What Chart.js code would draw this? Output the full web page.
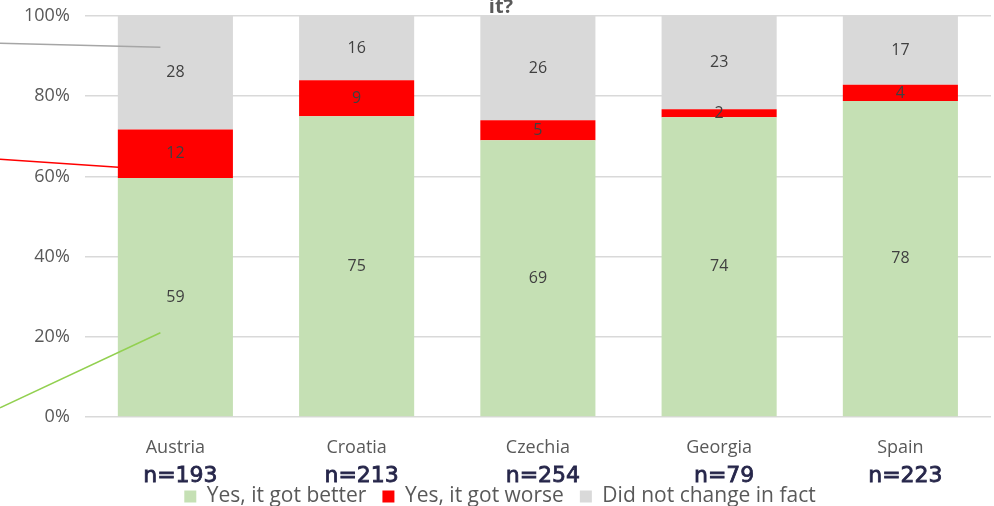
<!DOCTYPE html>
<html>
<head>
<meta charset="utf-8">
<script src="https://cdn.jsdelivr.net/npm/chart.js@4/dist/chart.umd.min.js"></script>
<style>
  html, body { margin: 0; padding: 0; background: #fff; }
  #wrap { width: 994px; height: 506px; }
</style>
</head>
<body>
<div id="wrap"><canvas id="chart"></canvas></div>
<script>
const countries = ['Austria', 'Croatia', 'Czechia', 'Georgia', 'Spain'];
const sampleSizes = ['n=193', 'n=213', 'n=254', 'n=79', 'n=223'];
const better = [59, 75, 69, 74, 78];
const worse = [12, 9, 5, 2, 4];
const noChange = [28, 16, 26, 23, 17];
const yTicks = [0, 20, 40, 60, 80, 100];

// shares of each country's total, the bars are 100% stacked
const totals = countries.map((c, i) => better[i] + worse[i] + noChange[i]);
const share = arr => arr.map((v, i) => v / totals[i] * 100);

const labelPlugin = {
  id: 'extras',
  afterDatasetsDraw(chart) {
    const ctx = chart.ctx;
    const x = chart.scales.x;
    const y = chart.scales.y;
    ctx.save();
    // value labels in the middle of each segment
    ctx.font = '16px "Open Sans"';
    ctx.fillStyle = '#404040';
    ctx.textAlign = 'center';
    ctx.textBaseline = 'middle';
    chart.data.datasets.forEach((ds, di) => {
      chart.getDatasetMeta(di).data.forEach((bar, i) => {
        const mid = (bar.y + bar.base) / 2;
        ctx.fillText(ds.raw[i], bar.x, mid);
      });
    });
    // sample sizes under the country names
    ctx.font = '22px "DejaVu Sans"';
    ctx.fillStyle = '#26264a';
    ctx.strokeStyle = '#26264a';
    ctx.lineWidth = 0.8;
    sampleSizes.forEach((s, i) => {
      const px = x.getPixelForValue(i) + 5;
      const py = chart.chartArea.bottom + 59;
      ctx.fillText(s, px, py);
      ctx.strokeText(s, px, py);
    });
    // leftover end of the title
    ctx.font = 'bold 20px "Open Sans"';
    ctx.fillStyle = '#595959';
    ctx.textBaseline = 'alphabetic';
    ctx.fillText('it?', 501, 13);
    // leader lines coming from outside the picture
    const cx = x.getPixelForValue(0);
    const lines = [
      ['#a6a6a6', 93.2, 92.2, cx - 15],
      ['#ff0000', 64.3, 62.3, cx - 57],
      ['#92d050', 2.3, 21, cx - 15]
    ];
    ctx.lineWidth = 1.5;
    lines.forEach(l => {
      ctx.strokeStyle = l[0];
      ctx.beginPath();
      ctx.moveTo(0, y.getPixelForValue(l[1]));
      ctx.lineTo(l[3], y.getPixelForValue(l[2]));
      ctx.stroke();
    });
    ctx.restore();
  }
};

new Chart(document.getElementById('chart'), {
  type: 'bar',
  data: {
    labels: countries,
    datasets: [
      { label: 'Yes, it got better', data: share(better), raw: better, backgroundColor: '#c5e0b4' },
      { label: 'Yes, it got worse', data: share(worse), raw: worse, backgroundColor: '#ff0000' },
      { label: 'Did not change in fact', data: share(noChange), raw: noChange, backgroundColor: '#d9d9d9' }
    ]
  },
  options: {
    responsive: true,
    maintainAspectRatio: false,
    animation: false,
    layout: { padding: { top: 16, right: 3, left: 9, bottom: -11 } },
    datasets: { bar: { categoryPercentage: 0.635, barPercentage: 1 } },
    plugins: {
      title: { display: false },
      tooltip: { enabled: false },
      legend: {
        position: 'bottom',
        labels: {
          font: { family: 'Open Sans', size: 21 },
          color: '#595959',
          boxWidth: 12,
          boxHeight: 12,
          padding: 16
        }
      }
    },
    scales: {
      x: {
        stacked: true,
        grid: { display: false },
        border: { display: false },
        ticks: { font: { family: 'Open Sans', size: 18 }, color: '#595959', padding: 12 },
        afterFit: s => { s.height = 53; }
      },
      y: {
        stacked: true,
        min: 0,
        max: 100,
        afterBuildTicks: s => { s.ticks = yTicks.map(v => ({ value: v })); },
        afterFit: s => { s.paddingTop = 0; s.paddingBottom = 0; },
        grid: { color: '#d9d9d9', lineWidth: 1.5, drawTicks: false },
        border: { display: false },
        ticks: {
          font: { family: 'Open Sans', size: 18 },
          color: '#595959',
          padding: 15,
          callback: v => v + '%'
        }
      }
    }
  },
  plugins: [labelPlugin]
});
</script>
</body>
</html>
